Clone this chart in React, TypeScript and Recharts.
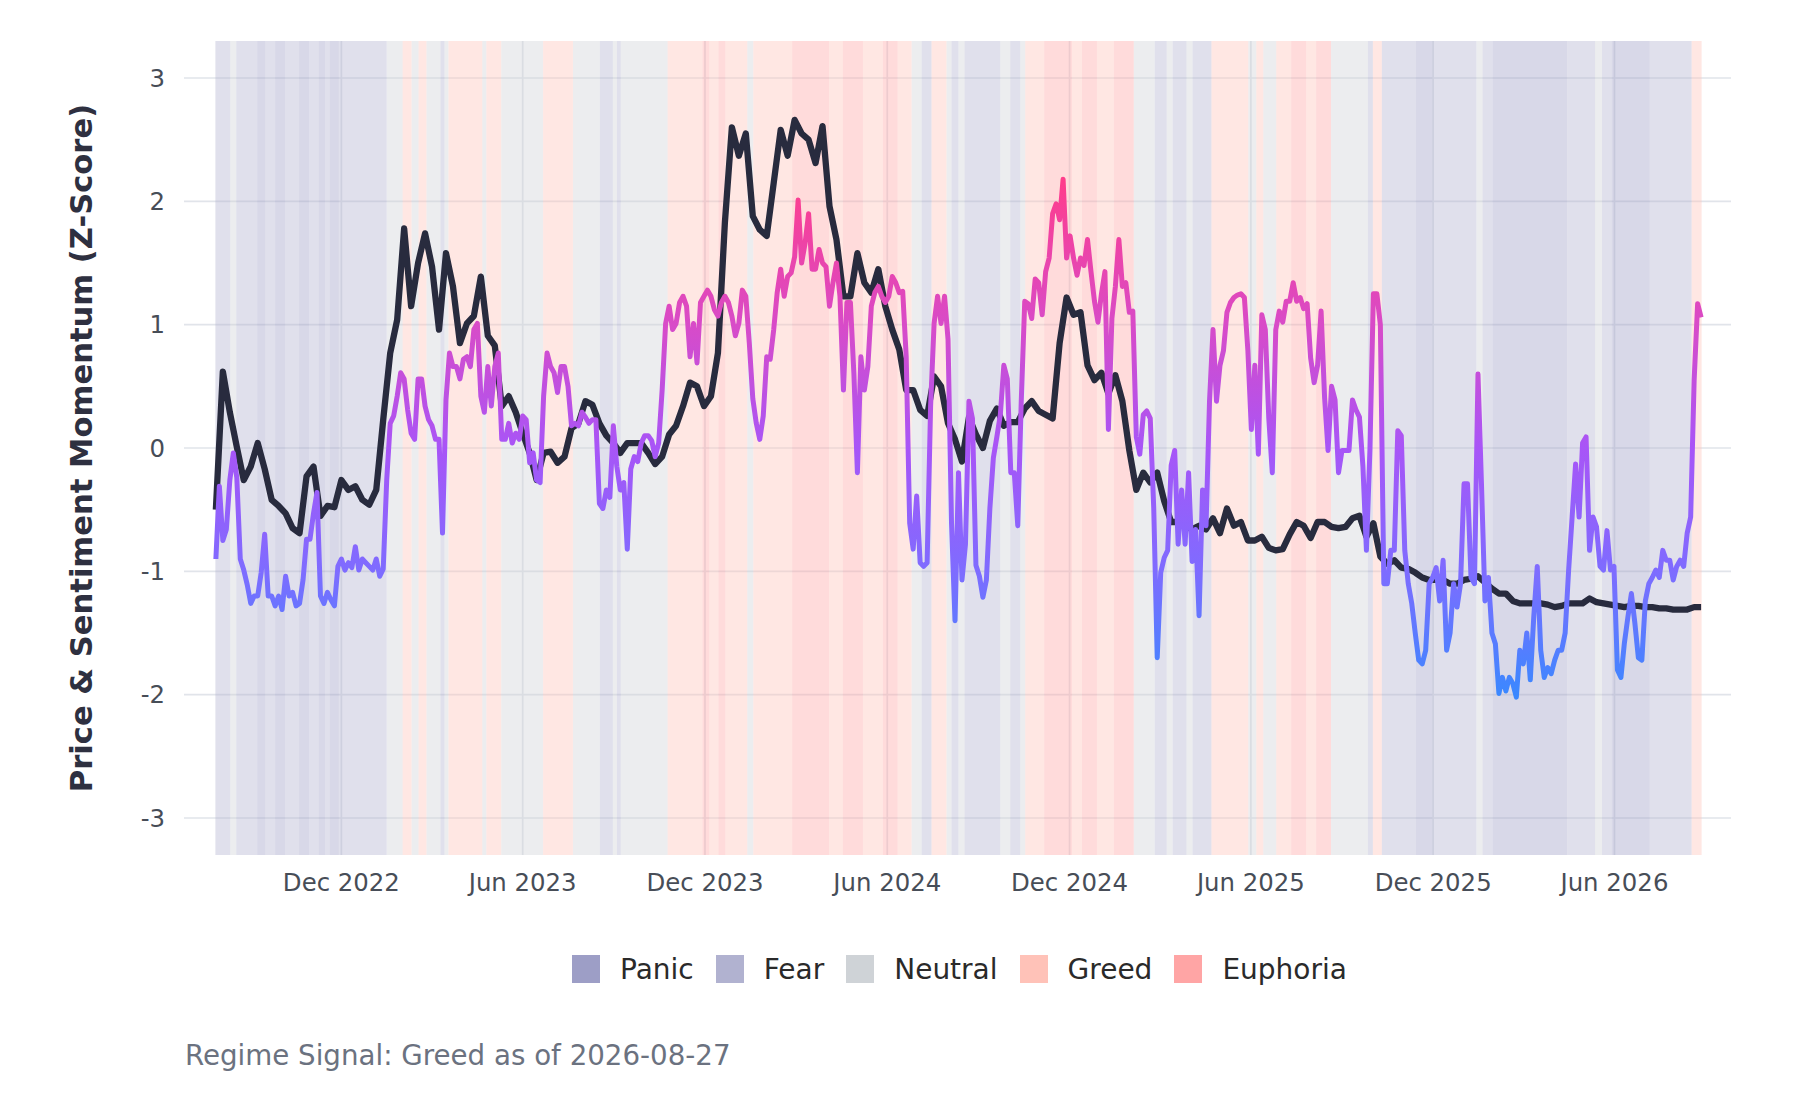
import * as React from "react";
import {
  ComposedChart,
  Line,
  XAxis,
  YAxis,
  CartesianGrid,
  ReferenceArea,
} from "recharts";

const FONT = '"DejaVu Sans", Verdana, sans-serif';
const DAY_MS = 86400000;
const toMs = (iso: string) => Date.parse(iso + "T00:00:00Z");

const START_DATE = "2022-07-28";
const PRICE_STEP_DAYS = 7; // weekly price z-score
const SENT_STEP_DAYS = 3.5; // twice-weekly sentiment z-score

const PRICE_Z = [
  -0.5, 0.62, 0.29, 0.01, -0.26, -0.15, 0.04, -0.17, -0.42, -0.47,
  -0.53, -0.65, -0.69, -0.23, -0.15, -0.55, -0.47, -0.48, -0.26, -0.34,
  -0.31, -0.42, -0.46, -0.34, 0.23, 0.77, 1.04, 1.78, 1.15, 1.5,
  1.74, 1.47, 0.96, 1.58, 1.31, 0.85, 1.01, 1.07, 1.39, 0.91,
  0.83, 0.34, 0.42, 0.29, 0.12, -0.04, -0.26, -0.04, -0.03, -0.12,
  -0.07, 0.16, 0.2, 0.38, 0.35, 0.2, 0.1, 0.04, -0.04, 0.04,
  0.04, 0.04, -0.04, -0.13, -0.07, 0.11, 0.18, 0.34, 0.53, 0.5,
  0.34, 0.42, 0.77, 1.83, 2.6, 2.37, 2.55, 1.88, 1.77, 1.72,
  2.15, 2.58, 2.37, 2.66, 2.55, 2.5, 2.31, 2.61, 1.96, 1.69,
  1.23, 1.23, 1.58, 1.34, 1.26, 1.45, 1.15, 0.96, 0.8, 0.47,
  0.47, 0.31, 0.26, 0.58, 0.5, 0.2, 0.07, -0.11, 0.25, 0.11,
  0.0, 0.22, 0.32, 0.18, 0.21, 0.21, 0.32, 0.38, 0.3, 0.27,
  0.24, 0.85, 1.22, 1.08, 1.1, 0.67, 0.55, 0.61, 0.44, 0.59,
  0.38, -0.02, -0.34, -0.2, -0.28, -0.2, -0.43, -0.6, -0.6, -0.63,
  -0.66, -0.63, -0.66, -0.57, -0.69, -0.49, -0.63, -0.6, -0.75, -0.75,
  -0.72, -0.81, -0.83, -0.82, -0.7, -0.6, -0.63, -0.73, -0.6, -0.6,
  -0.64, -0.65, -0.64, -0.57, -0.55, -0.72, -0.61, -0.88, -0.94, -0.91,
  -0.97, -0.98, -1.01, -1.05, -1.07, -1.07, -1.07, -1.1, -1.1, -1.07,
  -1.06, -1.04, -1.09, -1.14, -1.18, -1.18, -1.24, -1.26, -1.26, -1.26,
  -1.26, -1.27, -1.29, -1.28, -1.26, -1.26, -1.26, -1.22, -1.25, -1.26,
  -1.27, -1.28, -1.29, -1.28, -1.28, -1.29, -1.29, -1.3, -1.3, -1.31,
  -1.31, -1.31, -1.29, -1.29,
];

const SENTIMENT_Z = [
  -0.9, -0.31, -0.75, -0.66, -0.26, -0.04, -0.24, -0.9, -0.99, -1.11,
  -1.26, -1.2, -1.2, -1.01, -0.7, -1.2, -1.2, -1.28, -1.2, -1.31,
  -1.04, -1.2, -1.17, -1.28, -1.26, -1.07, -0.74, -0.74, -0.53, -0.36,
  -1.2, -1.26, -1.17, -1.23, -1.28, -0.96, -0.9, -0.99, -0.93, -0.97,
  -0.8, -0.99, -0.9, -0.93, -0.96, -0.99, -0.9, -1.04, -0.98, -0.26,
  0.2, 0.26, 0.42, 0.61, 0.56, 0.31, 0.12, 0.07, 0.56, 0.56,
  0.34, 0.23, 0.18, 0.07, 0.07, -0.69, 0.39, 0.77, 0.66, 0.66,
  0.56, 0.72, 0.74, 0.66, 0.96, 1.01, 0.42, 0.29, 0.66, 0.34,
  0.66, 0.77, 0.07, 0.07, 0.2, 0.04, 0.12, 0.07, 0.26, 0.23,
  -0.12, -0.04, -0.26, -0.28, 0.42, 0.77, 0.66, 0.61, 0.45, 0.66,
  0.66, 0.5, 0.18, 0.2, 0.18, 0.29, 0.25, 0.2, 0.23, 0.23,
  -0.45, -0.49, -0.34, -0.4, 0.18, -0.15, -0.34, -0.28, -0.82, -0.17,
  -0.07, -0.11, 0.04, 0.1, 0.1, 0.06, -0.07, 0.04, 0.47, 1.01,
  1.15, 0.96, 1.01, 1.18, 1.23, 1.15, 0.74, 1.01, 0.69, 1.18,
  1.23, 1.28, 1.23, 1.12, 1.07, 1.18, 1.23, 1.18, 1.07, 0.91,
  1.01, 1.28, 1.23, 0.85, 0.4, 0.2, 0.07, 0.26, 0.74, 0.72,
  0.96, 1.26, 1.45, 1.23, 1.39, 1.42, 1.55, 2.01, 1.5, 1.66,
  1.9, 1.45, 1.45, 1.61, 1.5, 1.47, 1.15, 1.34, 1.5, 1.23,
  0.47, 1.18, 1.18, 0.6, -0.2, 0.74, 0.47, 0.66, 1.15, 1.26,
  1.31, 1.23, 1.18, 1.23, 1.39, 1.34, 1.26, 1.27, 0.74, -0.61,
  -0.82, -0.39, -0.93, -0.96, -0.93, 0.34, 1.01, 1.23, 1.01, 1.23,
  0.88, -0.61, -1.4, -0.2, -1.07, -0.78, 0.38, 0.24, -0.95, -1.04,
  -1.21, -1.07, -0.49, -0.08, 0.09, 0.27, 0.67, 0.56, -0.2, -0.2,
  -0.63, 0.38, 1.19, 1.17, 1.05, 1.37, 1.34, 1.08, 1.43, 1.54,
  1.9, 1.98, 1.85, 2.18, 1.54, 1.72, 1.54, 1.4, 1.54, 1.48,
  1.69, 1.43, 1.19, 1.02, 1.25, 1.43, 0.15, 1.05, 1.31, 1.69,
  1.31, 1.34, 1.1, 1.11, 0.09, -0.05, 0.27, 0.3, 0.24, -0.49,
  -1.7, -1.01, -0.89, -0.83, -0.14, -0.02, -0.78, -0.34, -0.78, -0.2,
  -0.92, -0.66, -1.36, -0.34, -0.63, 0.38, 0.96, 0.38, 0.67, 0.79,
  1.1, 1.18, 1.22, 1.24, 1.25, 1.22, 0.79, 0.15, 0.67, -0.05,
  1.08, 0.96, 0.24, -0.2, 0.96, 1.11, 1.02, 1.19, 1.19, 1.34,
  1.19, 1.22, 1.13, 1.17, 0.73, 0.53, 0.67, 1.11, 0.41, -0.02,
  0.5, 0.39, -0.2, -0.02, -0.02, -0.02, 0.39, 0.31, 0.25, -0.15,
  -0.83, -0.02, 1.25, 1.25, 1.0, -1.1, -1.1, -0.83, -0.83, 0.14,
  0.1, -0.83, -1.1, -1.26, -1.5, -1.72, -1.75, -1.64, -1.1, -1.05,
  -0.97, -1.24, -0.91, -1.64, -1.5, -1.1, -1.29, -1.1, -0.29, -0.29,
  -1.05, -1.1, 0.6, -0.29, -1.24, -1.05, -1.5, -1.59, -1.99, -1.86,
  -1.97, -1.86, -1.91, -2.02, -1.64, -1.75, -1.5, -1.88, -1.37, -0.96,
  -1.64, -1.86, -1.78, -1.83, -1.72, -1.64, -1.64, -1.5, -0.99, -0.56,
  -0.13, -0.56, 0.04, 0.09, -0.83, -0.56, -0.64, -0.96, -0.99, -0.67,
  -0.99, -0.96, -1.8, -1.86, -1.58, -1.37, -1.18, -1.42, -1.7, -1.72,
  -1.24, -1.1, -1.05, -0.99, -1.05, -0.83, -0.91, -0.91, -1.07, -0.96,
  -0.91, -0.96, -0.69, -0.56, 0.55, 1.17, 1.06,
];

const REGIMES = ["Panic", "Fear", "Neutral", "Greed", "Euphoria"];
const REGIME_COLORS = ["#9d9ec6", "#b1b2d0", "#cfd3d7", "#ffc2b8", "#ffa5a5"];

// day (from START_DATE) on which each regime run begins
const REGIME_START_DAY = [
  0, 15, 21, 42, 50, 60, 70, 84, 94, 104,
  110, 115, 124, 172, 188, 197, 204, 212, 226, 230,
  234, 268, 272, 287, 329, 359, 386, 399, 403, 407,
  454, 489, 496, 505, 512, 534, 540, 579, 616, 630,
  650, 670, 685, 699, 709, 719, 734, 739, 746, 752,
  788, 798, 808, 813, 832, 860, 870, 885, 902, 922,
  943, 955, 961, 975, 981, 1000, 1037, 1045, 1052, 1065,
  1080, 1095, 1105, 1120, 1157, 1162, 1171, 1205, 1222, 1266,
  1272, 1282, 1357, 1385, 1392, 1402, 1440, 1482,
];
const REGIME_RUN = [
  "Fear", "Neutral", "Fear", "Panic", "Fear", "Panic", "Fear", "Panic", "Fear", "Panic",
  "Fear", "Panic", "Fear", "Neutral", "Greed", "Neutral", "Greed", "Neutral", "Fear", "Neutral",
  "Greed", "Neutral", "Greed", "Neutral", "Greed", "Neutral", "Fear", "Neutral", "Fear", "Neutral",
  "Greed", "Euphoria", "Greed", "Euphoria", "Greed", "Neutral", "Greed", "Euphoria", "Greed", "Euphoria",
  "Greed", "Euphoria", "Greed", "Neutral", "Fear", "Greed", "Neutral", "Fear", "Neutral", "Fear",
  "Neutral", "Fear", "Neutral", "Greed", "Euphoria", "Greed", "Euphoria", "Greed", "Euphoria", "Neutral",
  "Fear", "Neutral", "Fear", "Neutral", "Fear", "Greed", "Neutral", "Greed", "Neutral", "Greed",
  "Euphoria", "Greed", "Euphoria", "Neutral", "Fear", "Greed", "Fear", "Panic", "Fear", "Neutral",
  "Fear", "Panic", "Fear", "Neutral", "Fear", "Panic", "Fear", "Greed",
];
const REGIME_LAST_DAY = 1491;

const X_TICK_DATES = [
  "2022-12-01", "2023-06-01", "2023-12-01", "2024-06-01",
  "2024-12-01", "2025-06-01", "2025-12-01", "2026-06-01",
];
const X_RANGE = ["2022-06-26", "2026-09-26"];
const Y_TICKS = [-3, -2, -1, 0, 1, 2, 3];
const Y_RANGE = [-3.3, 3.3];

// sentiment colour scale (value -> colour)
const SENT_SCALE: Array<[number, string]> = [
  [2.2, "#ff3d8b"],
  [1, "#d84bc8"],
  [0, "#a855f7"],
  [-1, "#7e6cff"],
  [-2, "#3b88ff"],
];

const MONTHS = ["Jan", "Feb", "Mar", "Apr", "May", "Jun", "Jul", "Aug", "Sep", "Oct", "Nov", "Dec"];

const start = toMs(START_DATE);
const priceRows = PRICE_Z.map((p, i) => ({
  t: start + i * PRICE_STEP_DAYS * DAY_MS,
  price: p,
}));
const sentRows = SENTIMENT_Z.map((s, i) => ({
  t: start + i * SENT_STEP_DAYS * DAY_MS,
  sentiment: s,
}));

const bands = REGIME_START_DAY.map((d, i) => {
  const next = i + 1 < REGIME_START_DAY.length ? REGIME_START_DAY[i + 1] : REGIME_LAST_DAY + 1;
  return {
    x1: start + (d - 0.5) * DAY_MS,
    x2: start + (next - 0.5) * DAY_MS,
    color: REGIME_COLORS[REGIMES.indexOf(REGIME_RUN[i])],
  };
});

const sMax = Math.max(...SENTIMENT_Z);
const sMin = Math.min(...SENTIMENT_Z);
const gradStops = SENT_SCALE.map(([v, c]) => ({
  offset: Math.min(1, Math.max(0, (sMax - v) / (sMax - sMin))),
  color: c,
}));

const fmtDate = (t: number) => {
  const d = new Date(t);
  return `${MONTHS[d.getUTCMonth()]} ${d.getUTCFullYear()}`;
};

const tickStyle = { fontSize: 24.4, fill: "#474d57", fontFamily: FONT };

const YTitle = () => (
  <text
    x={81.5}
    y={448}
    transform="rotate(-90 81.5 448)"
    textAnchor="middle"
    dominantBaseline="central"
    style={{ fontFamily: FONT, fontSize: 30.6, fontWeight: 700, fill: "#2e3040" }}
  >
    {"Price & Sentiment Momentum (Z-Score)"}
  </text>
);

export default function App() {
  return (
    <div
      style={{
        position: "absolute",
        left: 0,
        top: 0,
        width: 1800,
        height: 1100,
        background: "#fff",
        fontFamily: FONT,
      }}
    >
      <ComposedChart
        width={1800}
        height={1100}
        data={priceRows}
        margin={{ top: 41, right: 69, bottom: 185, left: 44 }}
      >
        <defs>
          <linearGradient id="sentGrad" x1="0" y1="0" x2="0" y2="1">
            {gradStops.map((s, i) => (
              <stop key={i} offset={s.offset} stopColor={s.color} />
            ))}
          </linearGradient>
        </defs>
        <CartesianGrid stroke="#e1e4ea" strokeWidth={1.7} syncWithTicks />
        {bands.map((b, i) => (
          <ReferenceArea
            key={i}
            x1={b.x1}
            x2={b.x2}
            fill={b.color}
            fillOpacity={0.4}
            stroke="none"
            ifOverflow="visible"
          />
        ))}
        <XAxis
          dataKey="t"
          type="number"
          domain={[toMs(X_RANGE[0]), toMs(X_RANGE[1])]}
          ticks={X_TICK_DATES.map(toMs)}
          tickFormatter={fmtDate}
          allowDataOverflow
          interval={0}
          axisLine={false}
          tickLine={false}
          tickSize={0}
          tickMargin={19}
          height={60}
          tick={tickStyle}
        />
        <YAxis
          type="number"
          domain={Y_RANGE}
          ticks={Y_TICKS}
          allowDataOverflow
          interval={0}
          axisLine={false}
          tickLine={false}
          tickSize={0}
          tickMargin={19}
          width={140}
          tick={tickStyle}
          label={YTitle}
        />
        <Line
          data={priceRows}
          dataKey="price"
          type="linear"
          stroke="#282b3e"
          strokeWidth={6.3}
          strokeLinejoin="round"
          dot={false}
          activeDot={false}
          isAnimationActive={false}
        />
        <Line
          data={sentRows}
          dataKey="sentiment"
          type="linear"
          stroke="url(#sentGrad)"
          strokeWidth={5}
          strokeLinejoin="round"
          dot={false}
          activeDot={false}
          isAnimationActive={false}
        />
      </ComposedChart>

      <div
        style={{
          position: "absolute",
          left: 572,
          top: 953,
          height: 32,
          display: "flex",
          alignItems: "center",
          fontSize: 28,
          color: "#2a2a2a",
          whiteSpace: "nowrap",
        }}
      >
        {REGIMES.map((r, i) => (
          <div key={r} style={{ display: "flex", alignItems: "center", marginRight: 22 }}>
            <span
              style={{
                width: 28,
                height: 28,
                background: REGIME_COLORS[i],
                display: "inline-block",
                marginRight: 20,
              }}
            />
            <span>{r}</span>
          </div>
        ))}
      </div>

      <div
        style={{
          position: "absolute",
          left: 185,
          top: 1040,
          fontSize: 27.7,
          lineHeight: "32px",
          color: "#6b7280",
          whiteSpace: "nowrap",
        }}
      >
        Regime Signal: Greed as of 2026-08-27
      </div>
    </div>
  );
}
